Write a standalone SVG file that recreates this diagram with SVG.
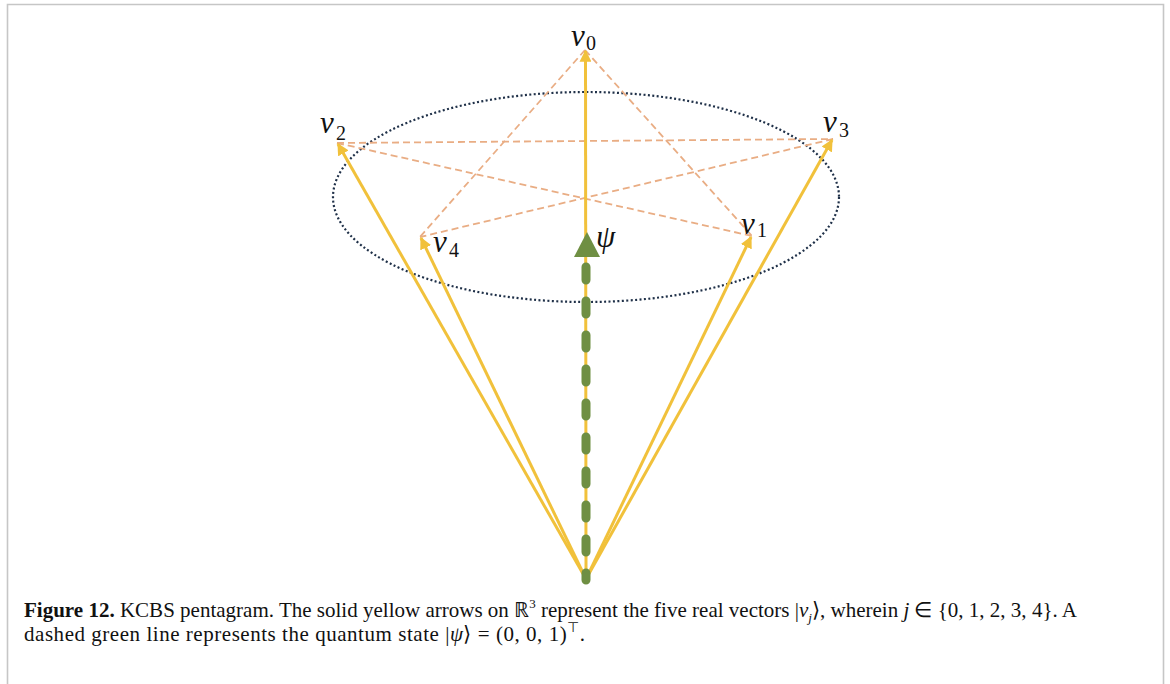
<svg xmlns="http://www.w3.org/2000/svg" width="1170" height="684" viewBox="0 0 1170 684">
<defs>
<style>
.frame{fill:none;stroke:#c6c6c6;stroke-width:1.6}
.ell{fill:none;stroke:#1f3048;stroke-width:2.2;stroke-dasharray:2 2.4}
.pent{fill:none;stroke:#e9ad84;stroke-width:1.8;stroke-dasharray:7 4}
.vec{fill:none;stroke:#f1c13b;stroke-width:3;marker-end:url(#ah)}
.psi{fill:none;stroke:#6f8f43;stroke-width:9;stroke-linecap:round;stroke-dasharray:13 21}
.lv{font-family:"Liberation Serif",serif;font-style:italic;font-size:31px;fill:#111}
.ls{font-family:"Liberation Serif",serif;font-size:20px;fill:#111}
.cap{font-family:"Liberation Serif","Times New Roman",serif;font-size:21px;fill:#111}
</style>
<marker id="ah" viewBox="0 0 10 10" refX="9" refY="5" markerWidth="4" markerHeight="4" orient="auto" markerUnits="strokeWidth">
<path d="M0,0 L10,5 L0,10 z" fill="#f1c13b"/>
</marker>
</defs>
<path class="frame" d="M7.5,684 V4.5 H1163.5 V684"/>
<g id="ellipse"><ellipse class="ell" cx="586" cy="197" rx="253" ry="105"/></g>
<g id="connectors">
<g id="pentagram">
<line class="pent" x1="585" y1="50" x2="420" y2="237"/>
<line class="pent" x1="585" y1="50" x2="752" y2="236"/>
<line class="pent" x1="337" y1="143" x2="833" y2="139"/>
<line class="pent" x1="337" y1="143" x2="752" y2="236"/>
<line class="pent" x1="833" y1="139" x2="420" y2="237"/>
</g>
<g id="vectors">
<line class="vec" x1="586" y1="579" x2="585.5" y2="51"/>
<line class="vec" x1="586" y1="579" x2="338" y2="144"/>
<line class="vec" x1="586" y1="579" x2="832" y2="140"/>
<line class="vec" x1="586" y1="579" x2="421" y2="238"/>
<line class="vec" x1="586" y1="579" x2="751" y2="237"/>
</g>
<line id="psi-line" class="psi" x1="586" y1="267" x2="586" y2="580"/>
</g>
<g id="psi"><polygon points="587,232 574,257 600,257" fill="#6f8f43"/><text class="lv" x="596" y="247" font-size="33">ψ</text></g>
<g id="v0"><text class="lv" x="571" y="46">v</text><text class="ls" x="586" y="50">0</text></g>
<g id="v1"><text class="lv" x="741" y="234">v</text><text class="ls" x="757" y="237">1</text></g>
<g id="v2"><text class="lv" x="320" y="133">v</text><text class="ls" x="336" y="140">2</text></g>
<g id="v3"><text class="lv" x="823" y="132">v</text><text class="ls" x="839" y="137">3</text></g>
<g id="v4"><text class="lv" x="433" y="252">v</text><text class="ls" x="449" y="257">4</text></g>
<g id="caption">
<text class="cap" x="24" y="617" textLength="1053" lengthAdjust="spacing"><tspan font-weight="bold">Figure 12.</tspan> KCBS pentagram. The solid yellow arrows on ℝ<tspan font-size="13" dy="-9">3</tspan><tspan dy="9"> represent the five real vectors |</tspan><tspan font-style="italic">v<tspan font-size="13" dy="5">j</tspan></tspan><tspan dy="-5">⟩, wherein </tspan><tspan font-style="italic">j</tspan> ∈ {0, 1, 2, 3, 4}. A</text>
<text class="cap" x="24" y="641" textLength="561" lengthAdjust="spacing">dashed green line represents the quantum state |<tspan font-style="italic">ψ</tspan>⟩ = (0, 0, 1)<tspan font-size="14" dy="-9">⊤</tspan><tspan dy="9">.</tspan></text>
</g>
</svg>
